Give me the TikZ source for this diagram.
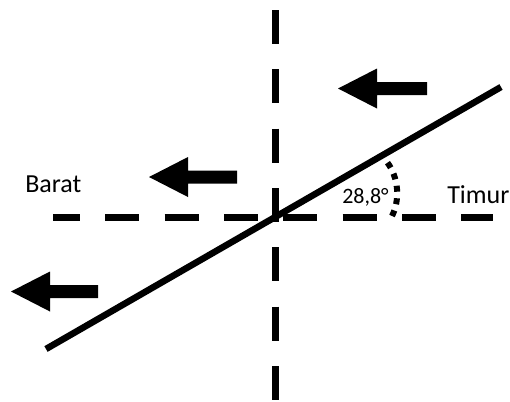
\documentclass[tikz,border=0pt]{standalone}
\usepackage{fontspec}
\setmainfont{Carlito}
\begin{document}
\begin{tikzpicture}[x=0.75pt,y=-0.75pt,
    axis/.style={line width=5.25pt,dash pattern=on 25.5pt off 19pt},
    windarrow/.style={fill=black}]
  \useasboundingbox (0,0) rectangle (510,401);
  \coordinate (O) at (275,217);

  % dashed axes
  \draw[axis] (275,10) -- (275,400);
  \draw[axis,dash phase=5.25pt] (53,217) -- (493,217);

  % slanted line
  \draw[line width=4.9pt] (46,349) -- (501,87);

  % dotted angle mark
  \draw[line width=4.5pt,dash pattern=on 4.5pt off 4.9pt]
    (392,216) .. controls (400,200) and (399,178) .. (387,162);

  % arrows pointing west
  \foreach \tx/\ty/\ex in {338/88.5/427, 149/177/237, 11/291.5/98}
    \fill[windarrow] (\tx,\ty) -- (\tx+39,\ty-20) -- (\tx+39,\ty-6.5)
      -- (\ex,\ty-6.5) -- (\ex,\ty+6.5) -- (\tx+39,\ty+6.5)
      -- (\tx+39,\ty+20) -- cycle;

  % labels
  \node[anchor=base west,inner sep=0pt,font=\fontsize{19.5}{20}\selectfont] (barat) at (25,192) {Barat};
  \node[anchor=base west,inner sep=0pt,font=\fontsize{19.5}{20}\selectfont] (timur) at (447,203) {Timur};
  \node[anchor=base west,inner sep=0pt,font=\fontsize{16.5}{17}\selectfont] (sudut) at (342,203) {28,8°};
\end{tikzpicture}
\end{document}
